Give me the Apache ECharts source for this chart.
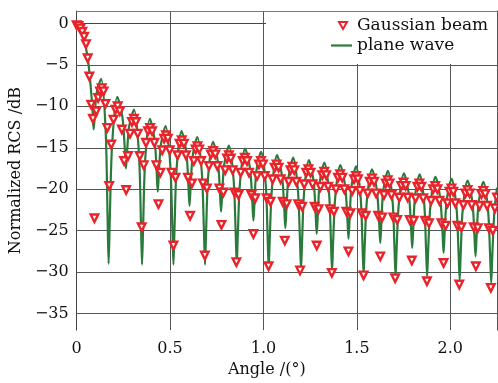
<!DOCTYPE html>
<html>
<head>
<meta charset="utf-8">
<script src="https://cdn.jsdelivr.net/npm/echarts@6/dist/echarts.min.js"></script>
<style>html,body{margin:0;padding:0;background:#fff}#c{width:498px;height:383px}</style>
</head>
<body>
<div id="c"></div>
<script>
// ---- data ----
var xTicks = [0, 0.5, 1.0, 1.5, 2.0];
var yTicks = [-35, -30, -25, -20, -15, -10, -5, 0];
var xRange = [0, 2.25];
var yRange = [-37, 1.5];

// plane wave: [angle (deg), normalized RCS (dB)]
var planeWave = [
  [0,0],[0.010,-0.1],[0.020,-0.4],[0.032,-1.3],[0.046,-2.6],[0.059,-4.1],[0.068,-5.9],[0.077,-8.1],[0.086,-10.8],[0.091,-12.8],
  [0.097,-11.1],[0.107,-8.4],[0.131,-6.7],[0.155,-12.9],[0.165,-22.8],[0.171,-29.0],
  [0.1775,-23.4],[0.190,-14.5],[0.2175,-8.85],[0.245,-11.3],[0.2575,-15.1],[0.264,-17.5],
  [0.270,-15.5],[0.281,-12.4],[0.307,-10.4],[0.333,-15.6],[0.344,-23.9],[0.350,-29.1],
  [0.356,-24.2],[0.367,-16.4],[0.392,-11.5],[0.417,-14.0],[0.428,-17.8],[0.434,-20.3],
  [0.440,-18.1],[0.451,-14.6],[0.476,-12.4],[0.501,-17.1],[0.512,-24.4],[0.518,-29.1],
  [0.524,-24.6],[0.535,-17.5],[0.561,-13.0],[0.587,-15.5],[0.598,-19.5],[0.604,-22.0],
  [0.610,-19.7],[0.621,-16.0],[0.6455,-13.7],[0.670,-18.0],[0.681,-24.8],[0.687,-29.1],
  [0.693,-25.0],[0.704,-18.4],[0.730,-14.3],[0.756,-16.7],[0.767,-20.4],[0.773,-22.7],
  [0.779,-20.5],[0.790,-17.0],[0.815,-14.75],[0.840,-18.8],[0.851,-25.1],[0.857,-29.1],
  [0.863,-25.2],[0.875,-19.0],[0.9015,-15.1],[0.928,-17.5],[0.940,-21.4],[0.946,-23.8],
  [0.952,-21.5],[0.962,-17.8],[0.987,-15.5],[1.012,-19.4],[1.022,-25.6],[1.028,-29.5],
  [1.034,-25.7],[1.046,-19.7],[1.0725,-15.9],[1.099,-18.4],[1.111,-22.2],[1.117,-24.7],
  [1.123,-22.3],[1.134,-18.6],[1.159,-16.2],[1.184,-20.0],[1.195,-25.9],[1.201,-29.7],
  [1.207,-26.0],[1.218,-20.2],[1.243,-16.5],[1.268,-19.0],[1.279,-22.9],[1.285,-25.4],
  [1.291,-23.0],[1.301,-19.2],[1.326,-16.8],[1.351,-20.5],[1.361,-26.2],[1.367,-29.9],
  [1.373,-26.3],[1.385,-20.7],[1.411,-17.1],[1.437,-19.6],[1.449,-23.5],[1.455,-26.0],
  [1.461,-23.6],[1.471,-19.7],[1.4955,-17.25],[1.520,-20.9],[1.530,-26.7],[1.536,-30.3],
  [1.542,-26.7],[1.554,-21.2],[1.5805,-17.6],[1.607,-20.1],[1.619,-24.0],[1.625,-26.5],
  [1.631,-24.1],[1.641,-20.2],[1.666,-17.8],[1.691,-21.4],[1.701,-26.9],[1.707,-30.5],
  [1.713,-27.0],[1.725,-21.6],[1.7515,-18.1],[1.778,-20.6],[1.790,-24.6],[1.796,-27.1],
  [1.802,-24.6],[1.812,-20.7],[1.836,-18.2],[1.860,-21.6],[1.870,-27.1],[1.876,-30.5],
  [1.882,-27.1],[1.894,-21.9],[1.920,-18.5],[1.946,-21.1],[1.958,-25.1],[1.964,-27.7],
  [1.970,-25.2],[1.981,-21.3],[2.007,-18.75],[2.033,-22.2],[2.044,-27.5],[2.050,-30.9],
  [2.056,-27.6],[2.067,-22.3],[2.0925,-18.95],[2.118,-21.5],[2.129,-25.5],[2.135,-28.1],
  [2.141,-25.6],[2.152,-21.6],[2.177,-19.1],[2.202,-22.5],[2.213,-27.9],[2.219,-31.3],
  [2.225,-27.9],[2.236,-22.7],[2.250,-19.8]
];

// Gaussian beam: [angle (deg), normalized RCS (dB)]
var gaussianBeam = [
  [0.000,-0.2],[0.010,-0.3],[0.020,-0.6],[0.030,-1.0],[0.040,-1.6],[0.050,-2.5],[0.059,-4.2],[0.068,-6.4],[0.078,-9.8],[0.087,-11.5],[0.095,-23.5],
  [0.105,-10.6],[0.115,-9.0],[0.125,-8.2],[0.134,-7.8],[0.144,-8.2],[0.154,-9.7],[0.164,-12.6],[0.174,-19.6],
  [0.185,-14.6],[0.197,-11.6],[0.208,-10.4],[0.2195,-10.0],[0.231,-10.6],[0.242,-12.8],[0.254,-16.6],[0.265,-20.1],
  [0.275,-16.0],[0.286,-13.3],[0.296,-11.9],[0.3065,-11.5],[0.317,-11.9],[0.327,-13.3],[0.338,-16.0],[0.348,-24.6],
  [0.359,-17.1],[0.371,-14.4],[0.382,-13.0],[0.393,-12.6],[0.404,-13.0],[0.416,-14.4],[0.427,-17.1],[0.438,-21.8],
  [0.448,-18.0],[0.458,-15.3],[0.468,-13.9],[0.478,-13.5],[0.488,-13.9],[0.498,-15.3],[0.508,-18.0],[0.518,-26.8],
  [0.529,-18.6],[0.540,-15.9],[0.551,-14.5],[0.5625,-14.1],[0.574,-14.5],[0.585,-15.9],[0.596,-18.6],[0.607,-23.2],
  [0.617,-19.3],[0.627,-16.6],[0.637,-15.2],[0.6465,-14.8],[0.656,-15.2],[0.666,-16.6],[0.676,-19.3],[0.686,-28.0],
  [0.697,-19.9],[0.708,-17.2],[0.719,-15.8],[0.7305,-15.4],[0.742,-15.8],[0.753,-17.2],[0.764,-19.9],[0.775,-24.3],
  [0.785,-20.4],[0.795,-17.7],[0.805,-16.3],[0.815,-15.9],[0.825,-16.3],[0.835,-17.7],[0.845,-20.4],[0.855,-28.8],
  [0.866,-20.7],[0.878,-18.0],[0.889,-16.6],[0.9005,-16.2],[0.912,-16.6],[0.923,-18.0],[0.935,-20.7],[0.946,-25.4],
  [0.956,-21.1],[0.966,-18.4],[0.976,-17.0],[0.9865,-16.6],[0.997,-17.0],[1.007,-18.4],[1.017,-21.1],[1.027,-29.3],
  [1.038,-21.5],[1.049,-18.8],[1.060,-17.4],[1.0705,-17.0],[1.081,-17.4],[1.092,-18.8],[1.103,-21.5],[1.114,-26.2],
  [1.124,-21.8],[1.135,-19.1],[1.145,-17.7],[1.155,-17.3],[1.165,-17.7],[1.176,-19.1],[1.186,-21.8],[1.196,-29.8],
  [1.207,-22.1],[1.218,-19.4],[1.229,-18.0],[1.2405,-17.6],[1.252,-18.0],[1.263,-19.4],[1.274,-22.1],[1.285,-26.8],
  [1.295,-22.4],[1.305,-19.7],[1.315,-18.3],[1.3255,-17.9],[1.336,-18.3],[1.346,-19.7],[1.356,-22.4],[1.366,-30.1],
  [1.377,-22.7],[1.388,-20.0],[1.399,-18.6],[1.4105,-18.2],[1.422,-18.6],[1.433,-20.0],[1.444,-22.7],[1.455,-27.5],
  [1.465,-22.9],[1.475,-20.2],[1.485,-18.8],[1.4955,-18.4],[1.506,-18.8],[1.516,-20.2],[1.526,-22.9],[1.536,-30.4],
  [1.547,-23.2],[1.558,-20.5],[1.569,-19.1],[1.5805,-18.7],[1.592,-19.1],[1.603,-20.5],[1.614,-23.2],[1.625,-28.1],
  [1.635,-23.4],[1.645,-20.7],[1.655,-19.3],[1.665,-18.9],[1.675,-19.3],[1.685,-20.7],[1.695,-23.4],[1.705,-30.75],
  [1.716,-23.7],[1.727,-21.0],[1.738,-19.6],[1.7495,-19.2],[1.761,-19.6],[1.772,-21.0],[1.783,-23.7],[1.794,-28.6],
  [1.804,-23.8],[1.814,-21.1],[1.824,-19.7],[1.8345,-19.3],[1.845,-19.7],[1.855,-21.1],[1.865,-23.8],[1.875,-31.1],
  [1.886,-24.1],[1.897,-21.4],[1.908,-20.0],[1.9195,-19.6],[1.931,-20.0],[1.942,-21.4],[1.953,-24.1],[1.964,-28.9],
  [1.975,-24.4],[1.985,-21.7],[1.996,-20.3],[2.006,-19.9],[2.016,-20.3],[2.027,-21.7],[2.038,-24.4],[2.048,-31.5],
  [2.059,-24.6],[2.070,-21.9],[2.081,-20.5],[2.0925,-20.1],[2.104,-20.5],[2.115,-21.9],[2.126,-24.6],[2.137,-29.3],
  [2.147,-24.7],[2.157,-22.0],[2.167,-20.6],[2.177,-20.2],[2.187,-20.6],[2.197,-22.0],[2.207,-24.7],[2.217,-31.9],
  [2.228,-25.0],[2.239,-22.3],[2.250,-21.0]
];

var seriesNames = ['Gaussian beam', 'plane wave'];
var axisNames = { x: 'Angle /(\u00b0)', y: 'Normalized RCS /dB' };

// ---- chart ----
var FONT = 'DejaVu Serif';
var gridColor = '#555';
var green = '#2a7a3b';
var red = '#e8232a';
var chart = echarts.init(document.getElementById('c'), null, { renderer: 'canvas' });
function minus(v) { return String(v).replace('-', '\u2212'); }
var legendText = { fontFamily: FONT, fontSize: 17, color: '#111' };

chart.setOption({
  animation: false,
  backgroundColor: '#fff',
  grid: { left: 76, right: 1, top: 11, bottom: 45, show: false },
  graphic: [{
    type: 'rect', z: 5, silent: true,
    shape: { x: 266, y: 11, width: 231, height: 53 },
    style: { fill: '#fff' }
  }],
  legend: [{
    data: [{ name: seriesNames[0], icon: 'path://M0,0 L10,0 L5,8.7 Z' }],
    left: 338, top: 17, padding: 0, z: 6,
    itemWidth: 8, itemHeight: 7, itemGap: 0,
    itemStyle: { color: '#fff', borderColor: red, borderWidth: 2 },
    textStyle: Object.assign({ padding: [0, 0, 0, 5] }, legendText)
  }, {
    data: [{ name: seriesNames[1], icon: 'rect', itemStyle: { color: green } }],
    left: 331, top: 37, padding: 0, z: 6,
    itemWidth: 21, itemHeight: 2.2, itemGap: 0,
    textStyle: Object.assign({ padding: [0, 0, 0, 0] }, legendText)
  }],
  xAxis: [{
    type: 'value', min: xRange[0], max: xRange[1], interval: 0.5,
    name: axisNames.x, nameLocation: 'middle', nameGap: 31,
    nameTextStyle: { fontFamily: FONT, fontSize: 16, color: '#111', padding: [0, 40, 0, 0] },
    axisLine: { show: true, lineStyle: { color: '#444', width: 1 } },
    axisTick: { show: false, customValues: xTicks },
    axisLabel: { customValues: xTicks, fontFamily: FONT, fontSize: 16, color: '#111', margin: 11,
      formatter: function (v) { return v === 0 ? '0' : v.toFixed(1); } },
    splitLine: { show: true, lineStyle: { color: gridColor, width: 1 } }
  }, {
    type: 'value', min: xRange[0], max: xRange[1], position: 'top', z: 10,
    axisLine: { show: true, onZero: false, lineStyle: { color: '#777', width: 1 } },
    axisTick: { show: false }, axisLabel: { show: false }, splitLine: { show: false }
  }],
  yAxis: [{
    type: 'value', min: yRange[0], max: yRange[1],
    name: axisNames.y, nameLocation: 'middle', nameGap: 48,
    nameTextStyle: { fontFamily: FONT, fontSize: 16, color: '#111' },
    axisLine: { show: true, onZero: false, lineStyle: { color: '#444', width: 1 } },
    axisTick: { show: false, customValues: yTicks },
    axisLabel: { customValues: yTicks, fontFamily: FONT, fontSize: 16, color: '#111', margin: 8,
      formatter: function (v) { return minus(v); } },
    splitLine: { show: true, lineStyle: { color: gridColor, width: 1 } }
  }, {
    type: 'value', min: yRange[0], max: yRange[1], position: 'right', z: 10,
    axisLine: { show: true, onZero: false, lineStyle: { color: '#555', width: 1 } },
    axisTick: { show: false }, axisLabel: { show: false }, splitLine: { show: false }
  }],
  series: [{
    name: seriesNames[1], type: 'line', data: planeWave,
    symbol: 'none', smooth: 0.3, clip: true,
    lineStyle: { color: green, width: 2.2 }, itemStyle: { color: green }, z: 2
  }, {
    name: seriesNames[0], type: 'scatter', data: gaussianBeam,
    symbol: 'triangle', symbolRotate: 180, symbolSize: 7.5,
    itemStyle: { color: '#fff', borderColor: red, borderWidth: 2.4, opacity: 1 }, z: 3
  }]
});
</script>
</body>
</html>
